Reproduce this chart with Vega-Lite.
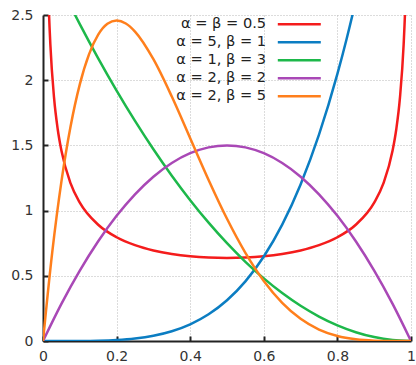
{
  "$schema": "https://vega.github.io/schema/vega-lite/v6.json",
  "width": 368,
  "height": 326,
  "autosize": {"type": "none"},
  "padding": {"left": 43, "top": 15, "right": 5, "bottom": 24},
  "background": "white",
  "config": {
    "view": {"stroke": null},
    "font": "DejaVu Sans"
  },
  "data": {
    "values": [
      {"s": "α = β = 0.5", "x": 0.005, "y": 4.513},
      {"s": "α = β = 0.5", "x": 0.01, "y": 3.199},
      {"s": "α = β = 0.5", "x": 0.015, "y": 2.619},
      {"s": "α = β = 0.5", "x": 0.02, "y": 2.274},
      {"s": "α = β = 0.5", "x": 0.03, "y": 1.866},
      {"s": "α = β = 0.5", "x": 0.04, "y": 1.624},
      {"s": "α = β = 0.5", "x": 0.05, "y": 1.4605},
      {"s": "α = β = 0.5", "x": 0.075, "y": 1.2085},
      {"s": "α = β = 0.5", "x": 0.1, "y": 1.061},
      {"s": "α = β = 0.5", "x": 0.15, "y": 0.8915},
      {"s": "α = β = 0.5", "x": 0.2, "y": 0.7958},
      {"s": "α = β = 0.5", "x": 0.25, "y": 0.7351},
      {"s": "α = β = 0.5", "x": 0.3, "y": 0.6946},
      {"s": "α = β = 0.5", "x": 0.35, "y": 0.6674},
      {"s": "α = β = 0.5", "x": 0.4, "y": 0.6497},
      {"s": "α = β = 0.5", "x": 0.45, "y": 0.6398},
      {"s": "α = β = 0.5", "x": 0.5, "y": 0.6366},
      {"s": "α = β = 0.5", "x": 0.55, "y": 0.6398},
      {"s": "α = β = 0.5", "x": 0.6, "y": 0.6497},
      {"s": "α = β = 0.5", "x": 0.65, "y": 0.6674},
      {"s": "α = β = 0.5", "x": 0.7, "y": 0.6946},
      {"s": "α = β = 0.5", "x": 0.75, "y": 0.7351},
      {"s": "α = β = 0.5", "x": 0.8, "y": 0.7958},
      {"s": "α = β = 0.5", "x": 0.85, "y": 0.8915},
      {"s": "α = β = 0.5", "x": 0.9, "y": 1.061},
      {"s": "α = β = 0.5", "x": 0.925, "y": 1.2085},
      {"s": "α = β = 0.5", "x": 0.95, "y": 1.4605},
      {"s": "α = β = 0.5", "x": 0.96, "y": 1.624},
      {"s": "α = β = 0.5", "x": 0.97, "y": 1.866},
      {"s": "α = β = 0.5", "x": 0.98, "y": 2.274},
      {"s": "α = β = 0.5", "x": 0.985, "y": 2.619},
      {"s": "α = β = 0.5", "x": 0.99, "y": 3.199},
      {"s": "α = β = 0.5", "x": 0.995, "y": 4.513},

      {"s": "α = 5, β = 1", "x": 0, "y": 0},
      {"s": "α = 5, β = 1", "x": 0.05, "y": 0.00003},
      {"s": "α = 5, β = 1", "x": 0.1, "y": 0.0005},
      {"s": "α = 5, β = 1", "x": 0.15, "y": 0.00253},
      {"s": "α = 5, β = 1", "x": 0.2, "y": 0.008},
      {"s": "α = 5, β = 1", "x": 0.25, "y": 0.0195},
      {"s": "α = 5, β = 1", "x": 0.3, "y": 0.0405},
      {"s": "α = 5, β = 1", "x": 0.35, "y": 0.075},
      {"s": "α = 5, β = 1", "x": 0.4, "y": 0.128},
      {"s": "α = 5, β = 1", "x": 0.45, "y": 0.205},
      {"s": "α = 5, β = 1", "x": 0.5, "y": 0.3125},
      {"s": "α = 5, β = 1", "x": 0.55, "y": 0.4575},
      {"s": "α = 5, β = 1", "x": 0.6, "y": 0.648},
      {"s": "α = 5, β = 1", "x": 0.65, "y": 0.8925},
      {"s": "α = 5, β = 1", "x": 0.7, "y": 1.2005},
      {"s": "α = 5, β = 1", "x": 0.75, "y": 1.582},
      {"s": "α = 5, β = 1", "x": 0.8, "y": 2.048},
      {"s": "α = 5, β = 1", "x": 0.825, "y": 2.316},
      {"s": "α = 5, β = 1", "x": 0.85, "y": 2.61},
      {"s": "α = 5, β = 1", "x": 0.9, "y": 3.2805},

      {"s": "α = 1, β = 3", "x": 0, "y": 3},
      {"s": "α = 1, β = 3", "x": 0.05, "y": 2.7075},
      {"s": "α = 1, β = 3", "x": 0.1, "y": 2.43},
      {"s": "α = 1, β = 3", "x": 0.15, "y": 2.1675},
      {"s": "α = 1, β = 3", "x": 0.2, "y": 1.92},
      {"s": "α = 1, β = 3", "x": 0.25, "y": 1.6875},
      {"s": "α = 1, β = 3", "x": 0.3, "y": 1.47},
      {"s": "α = 1, β = 3", "x": 0.35, "y": 1.2675},
      {"s": "α = 1, β = 3", "x": 0.4, "y": 1.08},
      {"s": "α = 1, β = 3", "x": 0.45, "y": 0.9075},
      {"s": "α = 1, β = 3", "x": 0.5, "y": 0.75},
      {"s": "α = 1, β = 3", "x": 0.55, "y": 0.6075},
      {"s": "α = 1, β = 3", "x": 0.6, "y": 0.48},
      {"s": "α = 1, β = 3", "x": 0.65, "y": 0.3675},
      {"s": "α = 1, β = 3", "x": 0.7, "y": 0.27},
      {"s": "α = 1, β = 3", "x": 0.75, "y": 0.1875},
      {"s": "α = 1, β = 3", "x": 0.8, "y": 0.12},
      {"s": "α = 1, β = 3", "x": 0.85, "y": 0.0675},
      {"s": "α = 1, β = 3", "x": 0.9, "y": 0.03},
      {"s": "α = 1, β = 3", "x": 0.95, "y": 0.0075},
      {"s": "α = 1, β = 3", "x": 1, "y": 0},

      {"s": "α = 2, β = 2", "x": 0, "y": 0},
      {"s": "α = 2, β = 2", "x": 0.05, "y": 0.285},
      {"s": "α = 2, β = 2", "x": 0.1, "y": 0.54},
      {"s": "α = 2, β = 2", "x": 0.15, "y": 0.765},
      {"s": "α = 2, β = 2", "x": 0.2, "y": 0.96},
      {"s": "α = 2, β = 2", "x": 0.25, "y": 1.125},
      {"s": "α = 2, β = 2", "x": 0.3, "y": 1.26},
      {"s": "α = 2, β = 2", "x": 0.35, "y": 1.365},
      {"s": "α = 2, β = 2", "x": 0.4, "y": 1.44},
      {"s": "α = 2, β = 2", "x": 0.45, "y": 1.485},
      {"s": "α = 2, β = 2", "x": 0.5, "y": 1.5},
      {"s": "α = 2, β = 2", "x": 0.55, "y": 1.485},
      {"s": "α = 2, β = 2", "x": 0.6, "y": 1.44},
      {"s": "α = 2, β = 2", "x": 0.65, "y": 1.365},
      {"s": "α = 2, β = 2", "x": 0.7, "y": 1.26},
      {"s": "α = 2, β = 2", "x": 0.75, "y": 1.125},
      {"s": "α = 2, β = 2", "x": 0.8, "y": 0.96},
      {"s": "α = 2, β = 2", "x": 0.85, "y": 0.765},
      {"s": "α = 2, β = 2", "x": 0.9, "y": 0.54},
      {"s": "α = 2, β = 2", "x": 0.95, "y": 0.285},
      {"s": "α = 2, β = 2", "x": 1, "y": 0},

      {"s": "α = 2, β = 5", "x": 0, "y": 0},
      {"s": "α = 2, β = 5", "x": 0.025, "y": 0.6778},
      {"s": "α = 2, β = 5", "x": 0.05, "y": 1.2218},
      {"s": "α = 2, β = 5", "x": 0.075, "y": 1.6472},
      {"s": "α = 2, β = 5", "x": 0.1, "y": 1.9683},
      {"s": "α = 2, β = 5", "x": 0.125, "y": 2.1982},
      {"s": "α = 2, β = 5", "x": 0.15, "y": 2.349},
      {"s": "α = 2, β = 5", "x": 0.175, "y": 2.4321},
      {"s": "α = 2, β = 5", "x": 0.2, "y": 2.4576},
      {"s": "α = 2, β = 5", "x": 0.225, "y": 2.435},
      {"s": "α = 2, β = 5", "x": 0.25, "y": 2.373},
      {"s": "α = 2, β = 5", "x": 0.3, "y": 2.1609},
      {"s": "α = 2, β = 5", "x": 0.35, "y": 1.8743},
      {"s": "α = 2, β = 5", "x": 0.4, "y": 1.5552},
      {"s": "α = 2, β = 5", "x": 0.45, "y": 1.2353},
      {"s": "α = 2, β = 5", "x": 0.5, "y": 0.9375},
      {"s": "α = 2, β = 5", "x": 0.55, "y": 0.6766},
      {"s": "α = 2, β = 5", "x": 0.6, "y": 0.4608},
      {"s": "α = 2, β = 5", "x": 0.65, "y": 0.2926},
      {"s": "α = 2, β = 5", "x": 0.7, "y": 0.1701},
      {"s": "α = 2, β = 5", "x": 0.75, "y": 0.0879},
      {"s": "α = 2, β = 5", "x": 0.8, "y": 0.0384},
      {"s": "α = 2, β = 5", "x": 0.85, "y": 0.0129},
      {"s": "α = 2, β = 5", "x": 0.9, "y": 0.0027},
      {"s": "α = 2, β = 5", "x": 0.95, "y": 0.00018},
      {"s": "α = 2, β = 5", "x": 1, "y": 0}
    ]
  },
  "mark": {"type": "line", "clip": true, "strokeWidth": 2.5, "interpolate": "monotone"},
  "encoding": {
    "x": {
      "field": "x", "type": "quantitative",
      "scale": {"domain": [0, 1], "nice": false, "zero": false},
      "axis": {
        "title": null, "values": [0, 0.2, 0.4, 0.6, 0.8, 1], "format": "~g",
        "grid": true, "gridDash": [1, 2], "gridColor": "#b8b8b8", "gridWidth": 1,
        "domainColor": "#222", "domainWidth": 2, "tickColor": "#222", "tickWidth": 2, "tickSize": -5,
        "labelFont": "DejaVu Sans", "labelFontSize": 14, "labelColor": "#333", "labelPadding": 13, "labelFlush": false
      }
    },
    "y": {
      "field": "y", "type": "quantitative",
      "scale": {"domain": [0, 2.5], "nice": false, "zero": true},
      "axis": {
        "title": null, "values": [0, 0.5, 1, 1.5, 2, 2.5], "format": "~g",
        "grid": true, "gridDash": [1, 2], "gridColor": "#b8b8b8", "gridWidth": 1,
        "domainColor": "#222", "domainWidth": 2, "tickColor": "#222", "tickWidth": 2, "tickSize": -5,
        "labelFont": "DejaVu Sans", "labelFontSize": 14, "labelColor": "#333", "labelPadding": 15, "labelFlush": false
      }
    },
    "color": {
      "field": "s", "type": "nominal",
      "scale": {
        "domain": ["α = β = 0.5", "α = 5, β = 1", "α = 1, β = 3", "α = 2, β = 2", "α = 2, β = 5"],
        "range": ["#f41c1c", "#0b7dc2", "#1db84a", "#a948b6", "#ff7f1c"]
      },
      "legend": {
        "title": null, "orient": "none", "legendX": 249, "legendY": 2,
        "symbolType": "M-4,0H4", "symbolSize": 115.6, "symbolStrokeWidth": 2.5,
        "labelAlign": "right", "labelOffset": -40.5, "labelFont": "DejaVu Sans", "labelFontSize": 14.6,
        "labelColor": "#222", "labelLimit": 300, "rowPadding": 3, "padding": 0
      }
    }
  }
}
